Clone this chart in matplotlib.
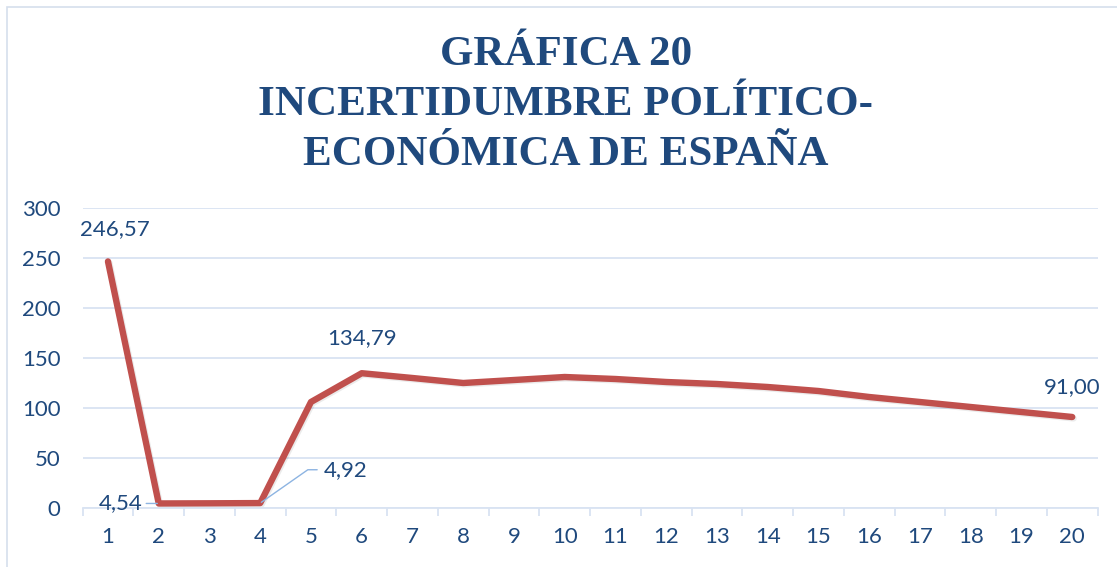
import matplotlib
matplotlib.use("Agg")
import matplotlib.pyplot as plt
import matplotlib.patheffects as pe
from matplotlib.patches import Rectangle

# Índice de incertidumbre político-económica (serie 1-20)
periodos = list(range(1, 21))
valores = [246.57, 4.54, 4.70, 4.92, 106.0, 134.79, 130.0, 125.0, 128.0, 131.0,
           129.0, 126.0, 124.0, 121.0, 117.0, 111.0, 106.0, 101.0, 96.0, 91.00]
yticks = [0, 50, 100, 150, 200, 250, 300]
titulo = "GRÁFICA 20\nINCERTIDUMBRE POLÍTICO-\nECONÓMICA DE ESPAÑA"

azul = "#1F497D"
rojo = "#C0504D"
rejilla = "#D9E3F2"

fig = plt.figure(figsize=(11.17, 5.67), dpi=100)
fig.patches.append(Rectangle((7 / 1117, -0.1), 1.2, 1 - 7 / 567 + 0.1,
                             transform=fig.transFigure, fill=False,
                             edgecolor="#D6DFEC", linewidth=1.2))

ax = fig.add_axes([82.6 / 1117, 59 / 567, 1015 / 1117, 300 / 567])
ax.plot(periodos, valores, color=rojo, linewidth=4.6, solid_capstyle="round",
        solid_joinstyle="round", clip_on=False,
        path_effects=[pe.SimpleLineShadow(offset=(1, -1), alpha=0.08),
                      pe.Normal()])

ax.set_xlim(0.5, 20.5)
ax.set_ylim(0, 300)
ax.set_yticks(yticks)
ax.set_xticks(periodos)
ax.set_xticks([p + 0.5 for p in [0] + periodos], minor=True)
ax.grid(axis="y", color=rejilla, linewidth=1.3)
ax.set_axisbelow(True)
for s in ["top", "right", "left"]:
    ax.spines[s].set_visible(False)
ax.spines["bottom"].set_color(rejilla)
ax.spines["bottom"].set_linewidth(1.3)
ax.tick_params(axis="x", which="major", length=0, pad=14)
ax.tick_params(axis="x", which="minor", length=6, color=rejilla, width=1.3)
ax.tick_params(axis="y", length=0, pad=16)
for lab in ax.get_xticklabels() + ax.get_yticklabels():
    lab.set_fontfamily("Lato")
    lab.set_fontsize(16)
    lab.set_color(azul)

etq = dict(fontfamily="Lato", fontsize=16, color=azul)
fmt = lambda v: f"{v:.2f}".replace(".", ",")
ax.annotate(fmt(valores[0]), (periodos[0], valores[0]), xytext=(5, 16),
            textcoords="offset points", ha="center", va="bottom", **etq)
ax.annotate(fmt(valores[5]), (periodos[5], valores[5]), xytext=(0, 18),
            textcoords="offset points", ha="center", va="bottom", **etq)
ax.annotate(fmt(valores[19]), (periodos[19], valores[19]), xytext=(0, 14),
            textcoords="offset points", ha="center", va="bottom", **etq)
ax.annotate(fmt(valores[1]), (periodos[1], valores[1]), xytext=(-12, 0),
            textcoords="offset points", ha="right", va="center",
            arrowprops=dict(arrowstyle="-", color="#8DB4E2", lw=1,
                            shrinkA=1, shrinkB=1), **etq)
ax.annotate(fmt(valores[3]), (periodos[3], valores[3]), xytext=(46, 24),
            textcoords="offset points", ha="left", va="center",
            arrowprops=dict(arrowstyle="-", color="#8DB4E2", lw=1,
                            connectionstyle="angle,angleA=0,angleB=35,rad=0",
                            shrinkA=3, shrinkB=1), **etq)

fig.text(566 / 1117, 1 - 105 / 567, titulo, ha="center", va="center",
         fontfamily="Liberation Serif", fontweight="bold", fontsize=31,
         color=azul, linespacing=1.42)

fig.savefig("out.png", dpi=100)
